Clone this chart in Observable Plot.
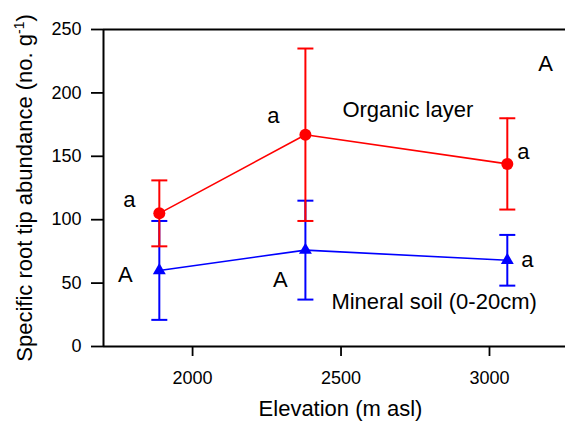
<!DOCTYPE html>
<html>
<head>
<meta charset="utf-8">
<script src="https://cdn.jsdelivr.net/npm/d3@7"></script>
<script src="https://cdn.jsdelivr.net/npm/@observablehq/plot@0.6"></script>
<style>
  body { margin: 0; background: #fff; }
</style>
</head>
<body>
<div id="chart"></div>
<script>
// Elevation of the three sampling sites (m a.s.l.)
const elevation = [1888, 2380, 3060];

// Organic layer: mean and error-bar bounds
const organicMean = [105, 167, 144];
const organicLow = [79, 99, 108];
const organicHigh = [131, 235, 180];
const organicLetters = ["a", "a", "a"];

// Mineral soil (0-20 cm): mean and error-bar bounds
const mineralMean = [60, 76, 68];
const mineralLow = [21, 37, 48];
const mineralHigh = [99, 115, 88];
const mineralLetters = ["A", "A", "a"];

const xTicks = [2000, 2500, 3000];
const yTicks = [0, 50, 100, 150, 200, 250];

const yTitle = "Specific root tip abundance (no. g-1)";
const xTitle = "Elevation (m asl)";
const panelLetter = "A";

const toRows = (mean, low, high, letters) =>
  elevation.map((x, i) => ({x, y: mean[i], lo: low[i], hi: high[i], letter: letters[i]}));

const organic = toRows(organicMean, organicLow, organicHigh, organicLetters);
const mineral = toRows(mineralMean, mineralLow, mineralHigh, mineralLetters);

const RED = "#ff0000";
const BLUE = "#0000ff";
const FONT = "Liberation Sans, Arial, Helvetica, sans-serif";

// Horizontal cap drawn at the end of each error bar
const cap = {
  draw(ctx, size) {
    const h = Math.sqrt(size / Math.PI);
    ctx.moveTo(-h, 0);
    ctx.lineTo(h, 0);
  }
};

function seriesMarks(rows, color, symbol, r) {
  return [
    Plot.ruleX(rows, {x: "x", y1: "lo", y2: "hi", stroke: color, strokeWidth: 2}),
    Plot.dot(rows, {x: "x", y: "lo", symbol: cap, r: 8, fill: "none", stroke: color, strokeWidth: 2}),
    Plot.dot(rows, {x: "x", y: "hi", symbol: cap, r: 8, fill: "none", stroke: color, strokeWidth: 2}),
    Plot.line(rows, {x: "x", y: "y", stroke: color, strokeWidth: 1.6}),
    Plot.dot(rows, {x: "x", y: "y", symbol, r, fill: color, stroke: "none"})
  ];
}

// Significance letters placed beside each mean
function letterMarks(rows, offsets) {
  return rows.map((d, i) =>
    Plot.text([d], {x: "x", y: "y", text: "letter", dx: offsets[i][0], dy: offsets[i][1],
      fontSize: 22, fill: "black"}));
}

const chart = Plot.plot({
  width: 565,
  height: 428,
  marginLeft: 103,
  marginRight: 0,
  marginTop: 29,
  marginBottom: 82,
  style: {fontFamily: FONT, fontSize: "18px", color: "black", background: "white"},
  x: {domain: [1700, 3256]},
  y: {domain: [0, 250]},
  marks: [
    Plot.axisY({ticks: yTicks, tickSize: 12, tickPadding: 10, strokeWidth: 1.8, label: null, fontSize: 18}),
    Plot.axisX({ticks: xTicks, tickSize: 10, tickPadding: 15, strokeWidth: 1.8, tickFormat: "d", label: null, fontSize: 18}),
    Plot.ruleY([0, 250], {stroke: "black", strokeWidth: 2}),
    Plot.ruleX([1700], {stroke: "black", strokeWidth: 2}),
    ...seriesMarks(mineral, BLUE, "triangle", 4.8),
    ...seriesMarks(organic, RED, "circle", 6),
    ...letterMarks(organic, [[-30, -13], [-32, -19], [16, -12]]),
    ...letterMarks(mineral, [[-34, 5], [-25, 30], [20, 0]]),
    Plot.text(["Organic layer"], {x: () => elevation[1], y: () => organicMean[1], text: d => d,
      textAnchor: "start", dx: 37, dy: -25, fontSize: 22}),
    Plot.text(["Mineral soil (0-20cm)"], {x: () => elevation[1], y: () => mineralMean[1], text: d => d,
      textAnchor: "start", dx: 26, dy: 52, fontSize: 22}),
    Plot.text([panelLetter], {frameAnchor: "top-right", text: d => d, textAnchor: "middle",
      dx: -20, dy: 26, fontSize: 22}),
    Plot.text([xTitle], {frameAnchor: "bottom", text: d => d, textAnchor: "middle", dx: 6, dy: 69, fontSize: 22}),
    Plot.text([yTitle], {frameAnchor: "left", text: d => d, textAnchor: "middle", rotate: -90, dx: -79, fontSize: 22})
  ]
});

document.getElementById("chart").appendChild(chart);

// Render the "-1" of the unit as a superscript
d3.select(chart).selectAll("text")
  .filter(function() { return this.textContent === yTitle; })
  .each(function() {
    const t = d3.select(this);
    t.text("Specific root tip abundance (no. g");
    t.append("tspan").attr("dy", "-8px").attr("font-size", "14px").text("-1");
    t.append("tspan").attr("dy", "8px").text(")");
  });
</script>
</body>
</html>
